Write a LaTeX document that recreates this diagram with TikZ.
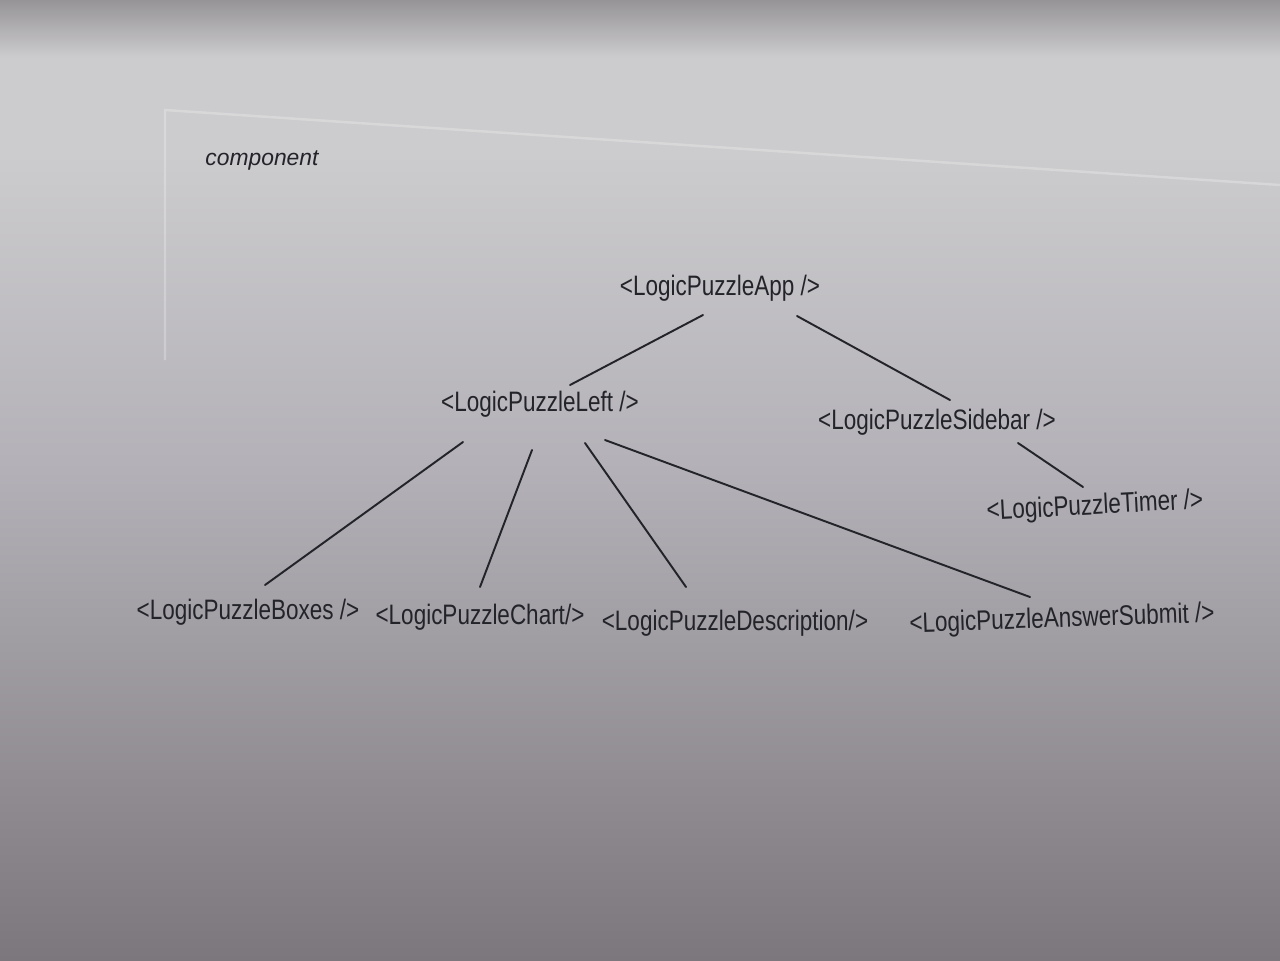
\documentclass[tikz,border=0pt]{standalone}
\usepackage{fontspec}
\setmainfont{Liberation Sans}
\usepackage{graphicx}

\definecolor{ink}{RGB}{35,35,42}
\definecolor{paperTop}{RGB}{204,203,205}
\definecolor{paperMid}{RGB}{180,178,184}
\definecolor{paperBot}{RGB}{124,119,125}
\definecolor{shadowTop}{RGB}{150,148,150}

\pgfdeclareverticalshading{sheet}{100bp}{color(0bp)=(paperBot); color(25bp)=(paperBot);
  color(51bp)=(paperMid); color(67bp)=(paperTop); color(72bp)=(paperTop);
  color(75bp)=(shadowTop); color(100bp)=(shadowTop)}

\tikzset{
  comp/.style={font=\fontsize{8}{9}\selectfont, text=ink, inner sep=1pt},
  link/.style={draw=ink, line width=0.55pt, line cap=round},
}
\newcommand{\handw}[1]{\scalebox{0.8}[1]{#1}}

\begin{document}
\begin{tikzpicture}
    \useasboundingbox (0,0) rectangle (12.8,9.6);

    % photographed sheet
    \shade[shading=sheet] (0,0) rectangle (12.8,9.6);
    \draw[white, opacity=0.25, line width=0.7pt] (1.65,6.0) -- (1.65,8.50) -- (12.8,7.75);

    \node[comp, font=\fontsize{6.5}{7}\selectfont\itshape] (title) at (2.62,8.00) {component};

    % components
    \node[comp] (app)   at (7.20,6.72) {\handw{<LogicPuzzleApp />}};
    \node[comp] (left)  at (5.40,5.56) {\handw{<LogicPuzzleLeft />}};
    \node[comp] (side)  at (9.37,5.38) {\handw{<LogicPuzzleSidebar />}};
    \node[comp, rotate=3] (timer) at (10.95,4.53) {\handw{<LogicPuzzleTimer />}};
    \node[comp] (boxes) at (2.48,3.48) {\handw{<LogicPuzzleBoxes />}};
    \node[comp] (chart) at (4.80,3.43) {\handw{<LogicPuzzleChart/>}};
    \node[comp] (desc)  at (7.35,3.37) {\handw{<LogicPuzzleDescription/>}};
    \node[comp, rotate=2] (ans) at (10.62,3.40) {\handw{<LogicPuzzleAnswerSubmit />}};

    % parent -- child
    \foreach \a/\ax/\ay/\b/\bx/\by in {
        app/-0.17/-0.27/left/0.30/0.19,
        app/0.77/-0.28/side/0.13/0.22,
        left/-0.77/-0.38/boxes/0.17/0.27,
        left/-0.08/-0.46/chart/0.00/0.30,
        left/0.45/-0.39/desc/-0.49/0.36,
        left/0.65/-0.36/ans/-0.32/0.23,
        side/0.81/-0.21/timer/-0.12/0.20}
        \draw[link] ([shift={(\ax,\ay)}]\a.center) -- ([shift={(\bx,\by)}]\b.center);

\end{tikzpicture}
\end{document}
